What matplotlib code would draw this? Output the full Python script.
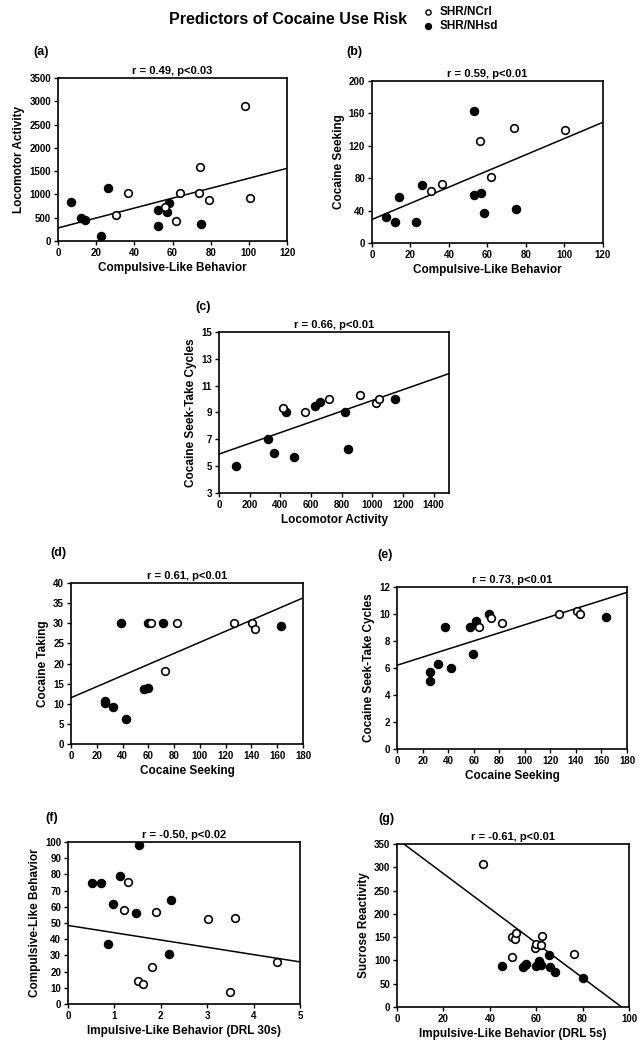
import numpy as np
import matplotlib.pyplot as plt

plt.rcParams['font.family'] = ['Liberation Sans', 'DejaVu Sans']
plt.rcParams['font.weight'] = 'bold'

# (a) Compulsive-like behavior vs locomotor activity
a_open_x = [30.5, 36.5, 56, 62, 64, 74, 74.5, 79, 98, 100.5]
a_open_y = [560, 1020, 720, 420, 1040, 1040, 1580, 880, 2900, 920]
a_fill_x = [7, 12, 14, 22.5, 26, 52.5, 52.5, 57, 58, 75]
a_fill_y = [840, 490, 440, 110, 1140, 660, 320, 620, 820, 360]
a_line = ([0, 120], [280, 1560])

# (b) Compulsive-like behavior vs cocaine seeking
b_open_x = [30.6, 36.6, 56, 61.8, 74, 100.5]
b_open_y = [64, 73, 126, 82, 142, 140]
b_fill_x = [7.5, 12.2, 14, 22.7, 25.9, 52.8, 52.8, 56.8, 58, 75]
b_fill_y = [32, 26, 57, 26, 71, 163, 59, 62, 37.5, 42]
b_line = ([0, 120], [29, 149])

# (c) Locomotor activity vs seek-take cycles
c_open_x = [415, 559, 720, 922, 1026, 1041]
c_open_y = [9.3, 9.0, 10.0, 10.3, 9.7, 10.0]
c_fill_x = [109, 322, 359, 437, 491, 626, 659, 824, 841, 1146]
c_fill_y = [5.0, 7.0, 6.0, 9.0, 5.7, 9.5, 9.8, 9.0, 6.3, 10.0]
c_line = ([0, 1500], [5.9, 11.9])

# (d) Cocaine seeking vs cocaine taking
d_open_x = [62, 82, 73.3, 126.8, 140.5, 142.8]
d_open_y = [30, 30, 18.1, 30, 30, 28.5]
d_fill_x = [38.5, 26.6, 26.6, 33, 42.9, 56.8, 59.7, 59.5, 71.8, 163.2]
d_fill_y = [30, 10.8, 10.2, 9.1, 6.3, 13.7, 14.0, 30, 30, 29.3]
d_line = ([0, 180], [11.5, 36.3])

# (e) Cocaine seeking vs seek-take cycles
e_open_x = [64.1, 73.3, 81.9, 126.6, 140.5, 142.9]
e_open_y = [9.0, 9.7, 9.3, 10.0, 10.25, 10.0]
e_fill_x = [26.2, 26.2, 32.4, 37.7, 42.4, 56.8, 59.4, 62, 71.7, 163.3]
e_fill_y = [5.0, 5.7, 6.3, 9.0, 6.0, 9.0, 7.0, 9.5, 10.0, 9.8]
e_line = ([0, 180], [6.2, 11.6])

# (f) Impulsive-like (DRL 30s) vs compulsive-like
f_open_x = [1.30, 1.21, 1.50, 1.61, 1.81, 1.90, 3.01, 3.61, 3.50, 4.50]
f_open_y = [75.3, 58.2, 14.2, 12.1, 22.8, 56.8, 52.7, 52.9, 7.6, 25.9]
f_fill_x = [0.51, 0.71, 0.97, 0.87, 1.12, 1.46, 1.54, 2.17, 2.23]
f_fill_y = [74.5, 74.5, 62, 36.8, 79, 56.4, 98, 30.9, 64.4]
f_line = ([0, 5], [48.5, 26])

# (g) Impulsive-like (DRL 5s) vs sucrose reactivity
g_open_x = [37.1, 49.7, 49.6, 50.9, 51.3, 59.3, 60.1, 61.9, 62.6, 76.1]
g_open_y = [307, 107, 151, 146, 159, 126, 135, 134, 153, 114]
g_fill_x = [45.1, 54.5, 55, 55.7, 59.8, 61.1, 61.6, 62.2, 65.7, 65.8, 68.2, 80.3]
g_fill_y = [88, 86, 90, 93, 88, 98, 93, 91, 111, 86, 75, 63]
g_line = ([0, 100], [361, -12])

panels = [
    # tag, tag position (fig px), rect, data, xlim, xticks, ylim, yticks, xlabel, ylabel, stat
    ('(a)', (33, 52), [0.0901, 0.7705, 0.3556, 0.1552],
     (a_open_x, a_open_y, a_fill_x, a_fill_y, a_line),
     (0, 120), np.arange(0, 121, 20), (0, 3500), np.arange(0, 3501, 500),
     'Compulsive-Like Behavior', 'Locomotor Activity', 'r = 0.49, p<0.03'),
    ('(b)', (346, 52), [0.5776, 0.7686, 0.3587, 0.1543],
     (b_open_x, b_open_y, b_fill_x, b_fill_y, b_line),
     (0, 120), np.arange(0, 121, 20), (0, 200), np.arange(0, 201, 40),
     'Compulsive-Like Behavior', 'Cocaine Seeking', 'r = 0.59, p<0.01'),
    ('(c)', (195, 307), [0.3401, 0.5305, 0.3571, 0.1533],
     (c_open_x, c_open_y, c_fill_x, c_fill_y, c_line),
     (0, 1500), np.arange(0, 1401, 200), (3, 15), np.arange(3, 16, 2),
     'Locomotor Activity', 'Cocaine Seek-Take Cycles', 'r = 0.66, p<0.01'),
    ('(d)', (50, 553), [0.1102, 0.2914, 0.3602, 0.1533],
     (d_open_x, d_open_y, d_fill_x, d_fill_y, d_line),
     (0, 180), np.arange(0, 181, 20), (0, 40), np.arange(0, 41, 5),
     'Cocaine Seeking', 'Cocaine Taking', 'r = 0.61, p<0.01'),
    ('(e)', (377, 555), [0.6165, 0.2867, 0.3571, 0.1543],
     (e_open_x, e_open_y, e_fill_x, e_fill_y, e_line),
     (0, 180), np.arange(0, 181, 20), (0, 12), np.arange(0, 13, 2),
     'Cocaine Seeking', 'Cocaine Seek-Take Cycles', 'r = 0.73, p<0.01'),
    ('(f)', (45, 818), [0.1056, 0.0438, 0.3602, 0.1543],
     (f_open_x, f_open_y, f_fill_x, f_fill_y, f_line),
     (0, 5), np.arange(0, 6, 1), (0, 100), np.arange(0, 101, 10),
     'Impulsive-Like Behavior (DRL 30s)', 'Compulsive-Like Behavior', 'r = -0.50, p<0.02'),
    ('(g)', (378, 819), [0.6165, 0.0410, 0.3602, 0.1552],
     (g_open_x, g_open_y, g_fill_x, g_fill_y, g_line),
     (0, 100), np.arange(0, 101, 20), (0, 350), np.arange(0, 351, 50),
     'Impulsive-Like Behavior (DRL 5s)', 'Sucrose Reactivity', 'r = -0.61, p<0.01'),
]

W, H = 644, 1050
fig = plt.figure(figsize=(W / 100, H / 100), dpi=100)

for tag, tpos, rect, data, xlim, xticks, ylim, yticks, xlab, ylab, stat in panels:
    ox, oy, fx, fy, line = data
    ax = fig.add_axes(rect)
    ax.plot(line[0], line[1], color='black', lw=1.1, zorder=2)
    ax.scatter(fx, fy, s=34, color='black', edgecolor='black', zorder=3)
    ax.scatter(ox, oy, s=30, facecolor='white', edgecolor='black', linewidth=1.2, zorder=4)
    ax.set_xlim(*xlim)
    ax.set_ylim(*ylim)
    ax.set_xticks(xticks)
    ax.set_yticks(yticks)
    ax.tick_params(direction='out', length=3, width=1, labelsize=7, pad=2)
    for lab in ax.get_xticklabels() + ax.get_yticklabels():
        lab.set_fontweight('bold')
    for sp in ax.spines.values():
        sp.set_linewidth(1.2)
    ax.set_xlabel(xlab, fontsize=8.5, fontweight='bold', labelpad=3)
    ax.set_ylabel(ylab, fontsize=8.5, fontweight='bold', labelpad=3)
    ax.set_title(stat, fontsize=8, fontweight='bold', pad=3)
    fig.text(tpos[0] / W, 1 - tpos[1] / H, tag, fontsize=9, fontweight='bold',
             ha='left', va='center')

# Figure title and legend
fig.text(288 / W, 1 - 19 / H, 'Predictors of Cocaine Use Risk', fontsize=11.5,
         fontweight='bold', ha='center', va='center')
leg_ax = fig.add_axes([0, 0, 1, 1], facecolor='none')
leg_ax.set_xlim(0, W)
leg_ax.set_ylim(H, 0)
leg_ax.axis('off')
leg_ax.scatter([428], [12], s=14, facecolor='white', edgecolor='black', linewidth=1.0)
leg_ax.scatter([428], [26], s=18, color='black')
leg_ax.text(440, 12, 'SHR/NCrl', fontsize=8.5, fontweight='bold', va='center')
leg_ax.text(440, 26, 'SHR/NHsd', fontsize=8.5, fontweight='bold', va='center')

fig.savefig('out.png', dpi=100)
